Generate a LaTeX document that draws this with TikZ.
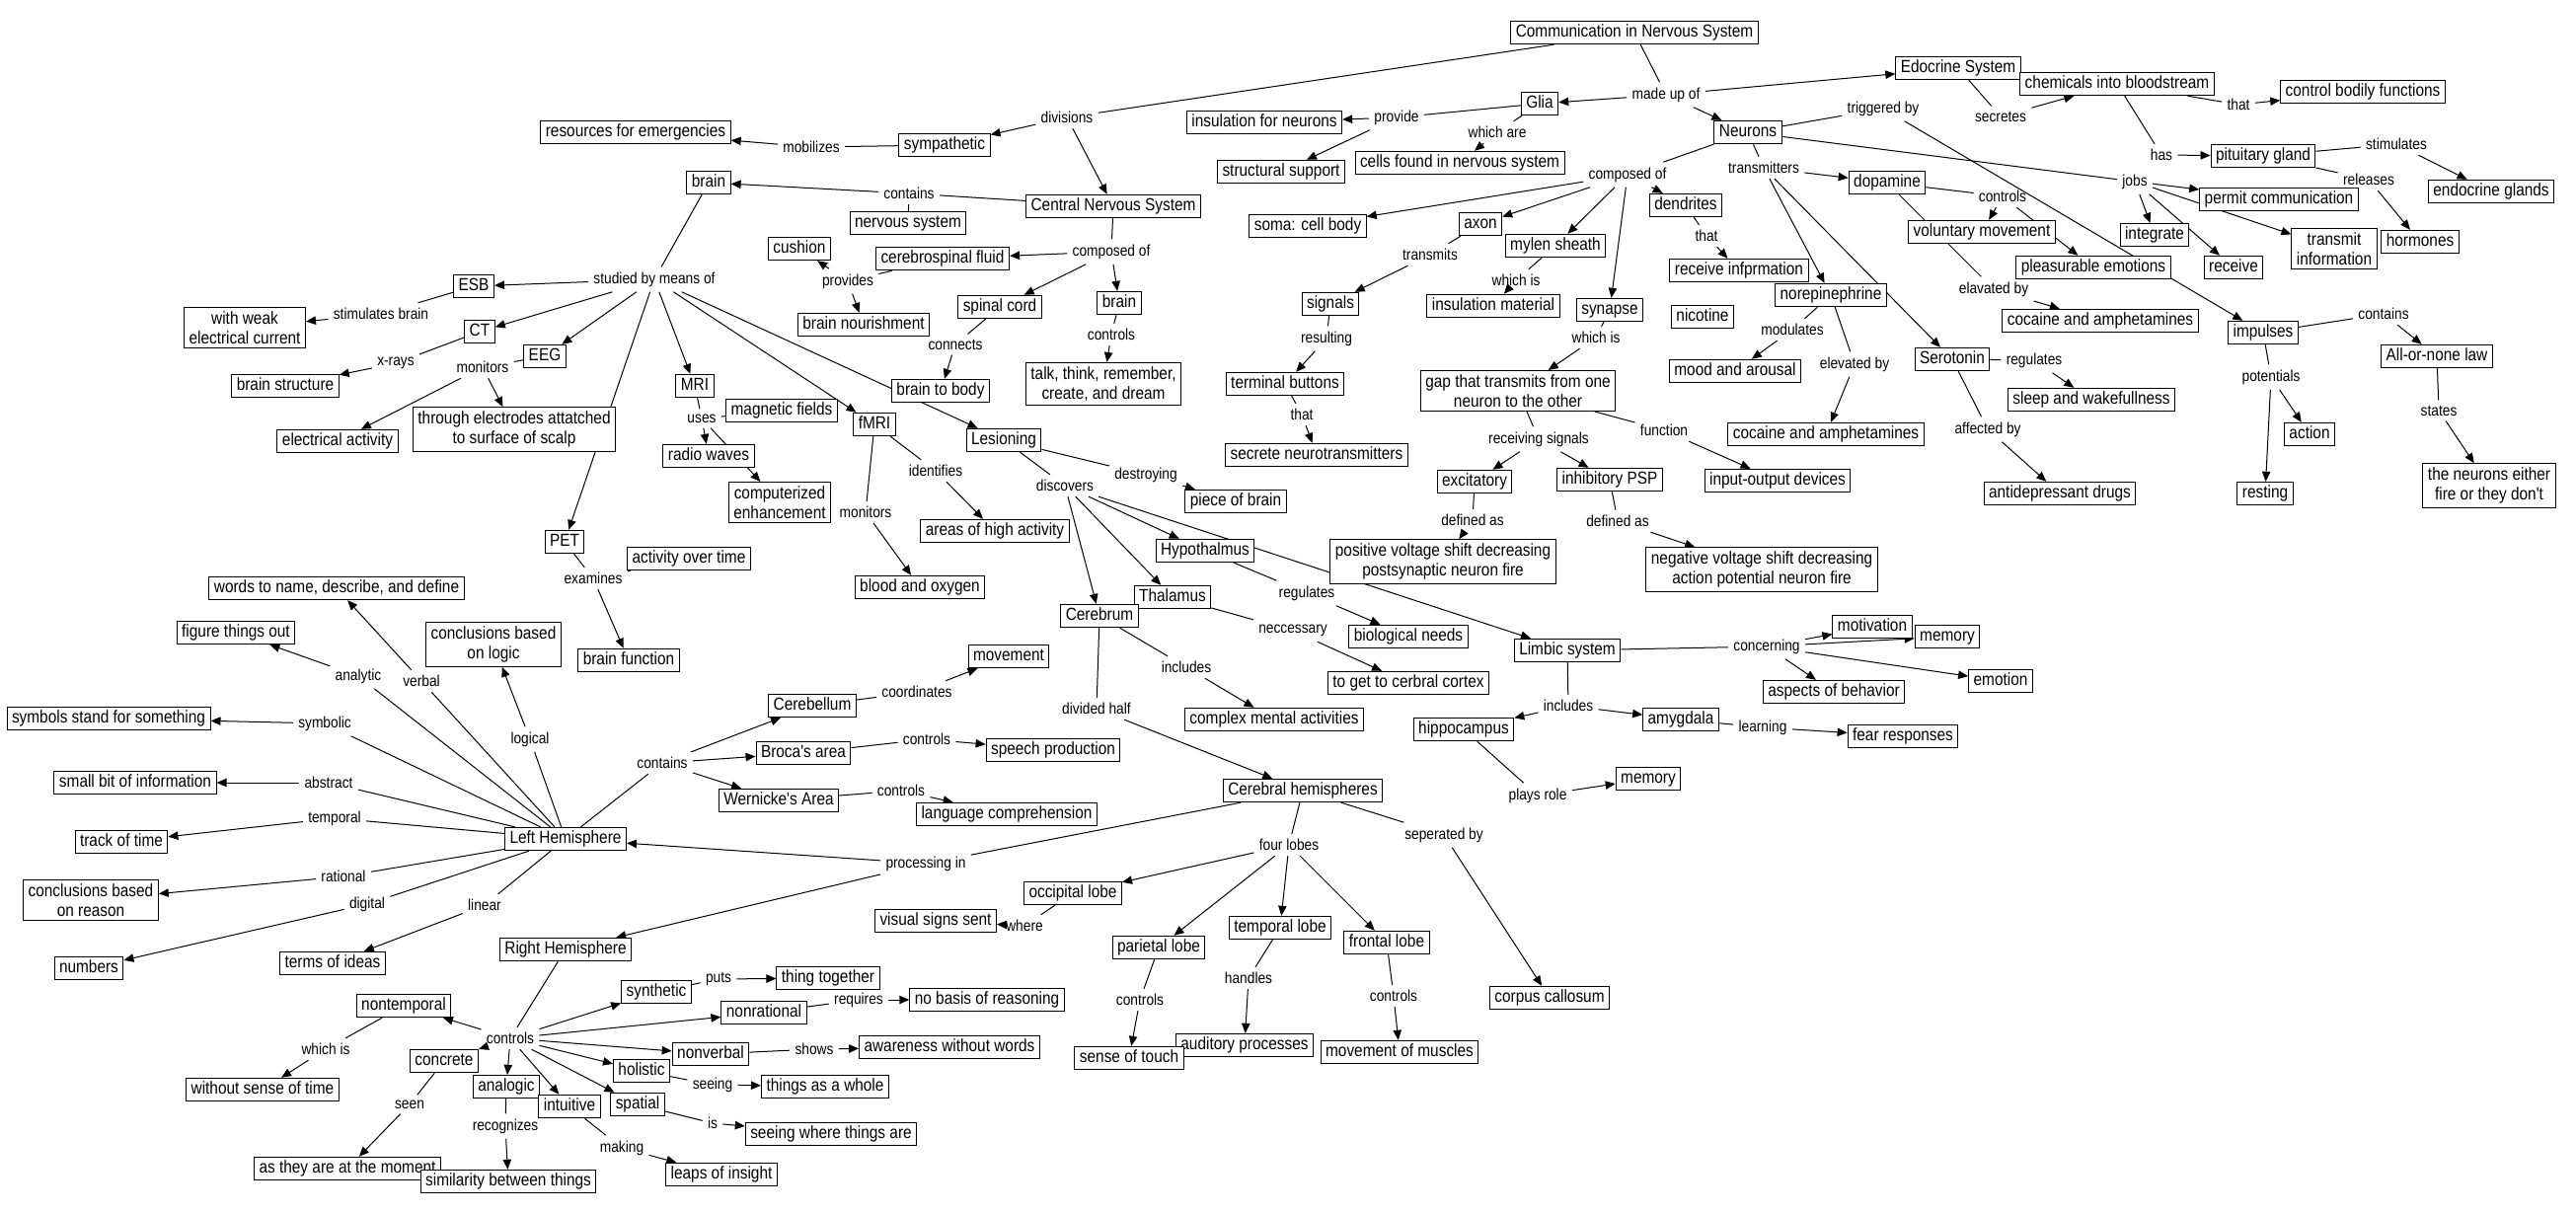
\documentclass[tikz,border=0pt]{standalone}
\usepackage{fontspec}
\newfontfamily\mapfont[FakeStretch=0.87]{Liberation Sans}
\newcommand\cfont{\mapfont\fontsize{8.85}{10}\selectfont}
\newcommand\lfont{\mapfont\fontsize{7.9}{9}\selectfont}
\usetikzlibrary{arrows.meta,backgrounds}
\tikzset{
  concept/.style={draw, fill=white, line width=0.5pt, font=\cfont,
    inner xsep=2.5pt, inner ysep=1.6pt, text height=6.6pt, text depth=1.9pt},
  concepttwo/.style={concept, text height=, text depth=, align=center, inner ysep=2pt},
  phrase/.style={font=\lfont, inner sep=2.5pt},
  link/.style={line width=0.5pt},
  arr/.style={link, -{Triangle[length=5pt,width=4.2pt]}}
}
\begin{document}
\begin{tikzpicture}[x=0.5pt,y=-0.5pt]
    \useasboundingbox (0,0) rectangle (2610,1229);
    % Concepts - top
    \node[concept] (comm) at (1656,33) {Communication in Nervous System};
    \node[concept] (edo) at (1984,69) {Edocrine System};
    \node[concept] (chem) at (2145,85) {chemicals into bloodstream};
    \node[concept] (ctrlbody) at (2394,93) {control bodily functions};
    \node[concept] (glia) at (1560,105) {Glia};
    \node[concept] (neur) at (1771,134) {Neurons};
    \node[concept] (insul) at (1281,124) {insulation for neurons};
    \node[concept] (cells) at (1479,165) {cells found in nervous system};
    \node[concept] (struct) at (1298,174) {structural support};
    \node[concept] (symp) at (957,147) {sympathetic};
    \node[concept] (resour) at (644,134) {resources for emergencies};
    \node[concept] (brainA) at (718,185) {brain};
    \node[concept] (cns) at (1128,209) {Central Nervous System};
    \node[concept] (nervsys) at (920,226) {nervous system};
    \node[concept] (pit) at (2293,158) {pituitary gland};
    \node[concept] (endo) at (2524,194) {endocrine glands};
    \node[concept] (permit) at (2309,202) {permit communication};
    \node[concept] (dopa) at (1912,185) {dopamine};
    \node[concept] (soma) at (1325,229) {soma: cell body};
    \node[concept] (axon) at (1500,227) {axon};
    \node[concept] (mylen) at (1576,249) {mylen sheath};
    \node[concept] (dend) at (1708,208) {dendrites};
    \node[concept] (recinf) at (1762,274) {receive infprmation};
    \node[concept] (integ) at (2183,238) {integrate};
    \node[concepttwo] (transinf) at (2365,252) {transmit\\information};
    \node[concept] (horm) at (2452,245) {hormones};
    \node[concept] (volmov) at (2008,235) {voluntary movement};
    \node[concept] (receive) at (2263,271) {receive};
    \node[concept] (pleas) at (2121,271) {pleasurable emotions};
    \node[concept] (cushion) at (810,252) {cushion};
    \node[concept] (csf) at (955,262) {cerebrospinal fluid};
    \node[concept] (esb) at (480,290) {ESB};
    \node[concept] (signals) at (1348,308) {signals};
    \node[concept] (insmat) at (1513,310) {insulation material};
    \node[concept] (synapse) at (1631,314) {synapse};
    \node[concept] (nicotine) at (1725,321) {nicotine};
    \node[concept] (norep) at (1855,299) {norepinephrine};
    \node[concept] (spinal) at (1013,311) {spinal cord};
    \node[concept] (brainB) at (1134,307) {brain};
    \node[concept] (cocA) at (2128,325) {cocaine and amphetamines};
    \node[concept] (impulses) at (2293,337) {impulses};
    \node[concept] (nourish) at (875,329) {brain nourishment};
    \node[concepttwo] (weak) at (248,332) {with weak\\electrical current};
    \node[concept] (ct) at (486,336) {CT};
    \node[concept] (eeg) at (552,361) {EEG};
    \node[concept] (allnone) at (2469,361) {All-or-none law};
    \node[concept] (sero) at (1978,364) {Serotonin};
    \node[concept] (mood) at (1758,376) {mood and arousal};
    \node[concept] (brainstr) at (289,391) {brain structure};
    \node[concept] (mri) at (704,391) {MRI};
    \node[concept] (termb) at (1302,389) {terminal buttons};
    \node[concepttwo] (gap) at (1538,396) {gap that transmits from one\\neuron to the other};
    \node[concepttwo] (talk) at (1118,389) {talk, think, remember,\\create, and dream};
    \node[concept] (b2b) at (953,396) {brain to body};
    \node[concept] (sleep) at (2119,405) {sleep and wakefullness};
    % Concepts - middle
    \node[concept] (magn) at (792,416) {magnetic fields};
    \node[concept] (fmri) at (886,430) {fMRI};
    \node[concepttwo] (electrodes) at (521,435) {through electrodes attatched\\to surface of scalp};
    \node[concept] (cocB) at (1850,440) {cocaine and amphetamines};
    \node[concept] (action) at (2340,440) {action};
    \node[concept] (elecact) at (342,447) {electrical activity};
    \node[concept] (lesion) at (1017,446) {Lesioning};
    \node[concept] (secrete) at (1334,461) {secrete neurotransmitters};
    \node[concept] (radio) at (718,462) {radio waves};
    \node[concept] (excit) at (1494,488) {excitatory};
    \node[concept] (inhib) at (1631,486) {inhibitory PSP};
    \node[concept] (inout) at (1801,487) {input-output devices};
    \node[concepttwo] (neurfire) at (2522,492) {the neurons either\\fire or they don't};
    \node[concept] (antidep) at (2087,500) {antidepressant drugs};
    \node[concept] (resting) at (2295,500) {resting};
    \node[concept] (piece) at (1252,508) {piece of brain};
    \node[concepttwo] (comput) at (790,509) {computerized\\enhancement};
    \node[concept] (areas) at (1008,538) {areas of high activity};
    \node[concept] (pet) at (572,549) {PET};
    \node[concept] (hypo) at (1221,558) {Hypothalmus};
    \node[concept] (activity) at (698,566) {activity over time};
    \node[concepttwo] (posv) at (1462,569) {positive voltage shift decreasing\\postsynaptic neuron fire};
    \node[concepttwo] (negv) at (1785,577) {negative voltage shift decreasing\\action potential neuron fire};
    \node[concept] (blood) at (932,595) {blood and oxygen};
    \node[concept] (words) at (341,596) {words to name, describe, and define};
    \node[concept] (thal) at (1188,605) {Thalamus};
    \node[concept] (cerebrum) at (1114,624) {Cerebrum};
    \node[concept] (memL) at (1973,645) {memory};
    \node[concept] (motiv) at (1897,635) {motivation};
    \node[concept] (figure) at (239,641) {figure things out};
    \node[concept] (biol) at (1427,645) {biological needs};
    \node[concepttwo] (logic) at (500,653) {conclusions based\\on logic};
    \node[concept] (limbic) at (1588,659) {Limbic system};
    \node[concept] (bfunc) at (637,669) {brain function};
    \node[concept] (movement) at (1022,665) {movement};
    \node[concept] (emotion) at (2027,690) {emotion};
    \node[concept] (cortex) at (1427,692) {to get to cerbral cortex};
    \node[concept] (aspects) at (1858,701) {aspects of behavior};
    \node[concept] (cerebellum) at (823,715) {Cerebellum};
    \node[concept] (symbols) at (110,728) {symbols stand for something};
    \node[concept] (complex) at (1291,729) {complex mental activities};
    \node[concept] (amyg) at (1703,729) {amygdala};
    \node[concept] (hippo) at (1483,739) {hippocampus};
    \node[concept] (fear) at (1928,746) {fear responses};
    \node[concept] (speech) at (1067,760) {speech production};
    \node[concept] (broca) at (814,763) {Broca's area};
    \node[concept] (memH) at (1670,789) {memory};
    \node[concept] (smallbit) at (137,793) {small bit of information};
    \node[concept] (hemis) at (1320,801) {Cerebral hemispheres};
    \node[concept] (wern) at (789,811) {Wernicke's Area};
    \node[concept] (lang) at (1020,825) {language comprehension};
    % Concepts - bottom
    \node[concept] (lh) at (573,850) {Left Hemisphere};
    \node[concept] (track) at (123,853) {track of time};
    \node[concepttwo] (reason) at (92,912) {conclusions based\\on reason};
    \node[concept] (occip) at (1087,905) {occipital lobe};
    \node[concept] (visual) at (948,933) {visual signs sent};
    \node[concept] (temp) at (1297,940) {temporal lobe};
    \node[concept] (frontal) at (1405,955) {frontal lobe};
    \node[concept] (pariet) at (1174,960) {parietal lobe};
    \node[concept] (rh) at (573,962) {Right Hemisphere};
    \node[concept] (terms) at (337,976) {terms of ideas};
    \node[concept] (numbers) at (90,981) {numbers};
    \node[concept] (thing) at (839,991) {thing together};
    \node[concept] (synth) at (665,1005) {synthetic};
    \node[concept] (corpus) at (1570,1011) {corpus callosum};
    \node[concept] (nobasis) at (1000,1013) {no basis of reasoning};
    \node[concept] (nontemp) at (409,1019) {nontemporal};
    \node[concept] (nonrat) at (774,1026) {nonrational};
    \node[concept] (auditory) at (1261,1059) {auditory processes};
    \node[concept] (touch) at (1144,1072) {sense of touch};
    \node[concept] (aware) at (962,1061) {awareness without words};
    \node[concept] (muscles) at (1418,1066) {movement of muscles};
    \node[concept] (nonverb) at (720,1068) {nonverbal};
    \node[concept] (concrete) at (450,1075) {concrete};
    \node[concept] (holistic) at (650,1085) {holistic};
    \node[concept] (analogic) at (513,1101) {analogic};
    \node[concept] (whole) at (836,1101) {things as a whole};
    \node[concept] (nosense) at (266,1104) {without sense of time};
    \node[concept] (spatial) at (646,1119) {spatial};
    \node[concept] (intuit) at (577,1121) {intuitive};
    \node[concept] (where2) at (842,1149) {seeing where things are};
    \node[concept] (moment) at (352,1184) {as they are at the moment};
    \node[concept] (similar) at (515,1197) {similarity between things};
    \node[concept] (leaps) at (731,1190) {leaps of insight};
    % Linking phrases
    \node[phrase] (divisions) at (1081,119) {divisions};
    \node[phrase] (madeup) at (1688,96) {made up of};
    \node[phrase] (trig) at (1908,110) {triggered by};
    \node[phrase] (provide) at (1415,119) {provide};
    \node[phrase] (whichare) at (1517,134) {which are};
    \node[phrase] (secretes) at (2027,118) {secretes};
    \node[phrase] (thatA) at (2268,106) {that};
    \node[phrase] (has) at (2190,157) {has};
    \node[phrase] (stim) at (2428,146) {stimulates};
    \node[phrase] (releases) at (2400,182) {releases};
    \node[phrase] (jobs) at (2163,184) {jobs};
    \node[phrase] (mobil) at (822,149) {mobilizes};
    \node[phrase] (containsA) at (921,196) {contains};
    \node[phrase] (compA) at (1649,177) {composed of};
    \node[phrase] (transm) at (1787,170) {transmitters};
    \node[phrase] (ctrlD) at (2029,199) {controls};
    \node[phrase] (thatD) at (1729,239) {that};
    \node[phrase] (transmits) at (1449,258) {transmits};
    \node[phrase] (compB) at (1126,255) {composed of};
    \node[phrase] (whichisM) at (1536,284) {which is};
    \node[phrase] (studied) at (663,283) {studied by means of};
    \node[phrase] (provides) at (859,285) {provides};
    \node[phrase] (elavated) at (2020,293) {elavated by};
    \node[phrase] (stimbrain) at (386,318) {stimulates brain};
    \node[phrase] (contI) at (2415,318) {contains};
    \node[phrase] (modul) at (1816,334) {modulates};
    \node[phrase] (ctrlB) at (1126,339) {controls};
    \node[phrase] (resulting) at (1344,343) {resulting};
    \node[phrase] (whichisS) at (1617,342) {which is};
    \node[phrase] (connects) at (968,349) {connects};
    \node[phrase] (regS) at (2061,365) {regulates};
    \node[phrase] (xrays) at (401,368) {x-rays};
    \node[phrase] (elevated) at (1879,369) {elevated by};
    \node[phrase] (monE) at (489,372) {monitors};
    \node[phrase] (potentials) at (2301,382) {potentials};
    \node[phrase] (states) at (2471,416) {states};
    \node[phrase] (thatT) at (1319,420) {that};
    \node[phrase] (uses) at (711,424) {uses};
    \node[phrase] (affected) at (2014,435) {affected by};
    \node[phrase] (function) at (1686,436) {function};
    \node[phrase] (receiving) at (1559,445) {receiving signals};
    \node[phrase] (identifies) at (948,477) {identifies};
    \node[phrase] (destroying) at (1161,481) {destroying};
    \node[phrase] (discovers) at (1079,492) {discovers};
    \node[phrase] (monF) at (877,519) {monitors};
    \node[phrase] (defE) at (1492,527) {defined as};
    \node[phrase] (defI) at (1639,528) {defined as};
    \node[phrase] (examines) at (601,586) {examines};
    \node[phrase] (regH) at (1324,601) {regulates};
    \node[phrase] (necc) at (1310,639) {neccessary};
    \node[phrase] (concern) at (1790,655) {concerning};
    \node[phrase] (analytic) at (363,685) {analytic};
    \node[phrase] (verbal) at (427,690) {verbal};
    \node[phrase] (includesC) at (1202,676) {includes};
    \node[phrase] (coord) at (929,701) {coordinates};
    \node[phrase] (includesL) at (1589,715) {includes};
    \node[phrase] (divided) at (1111,718) {divided half};
    \node[phrase] (symbolic) at (329,733) {symbolic};
    \node[phrase] (learning) at (1786,737) {learning};
    \node[phrase] (logical) at (537,749) {logical};
    \node[phrase] (ctrlBr) at (939,749) {controls};
    \node[phrase] (contL) at (671,773) {contains};
    \node[phrase] (abstract) at (333,793) {abstract};
    \node[phrase] (ctrlW) at (913,801) {controls};
    \node[phrase] (plays) at (1558,806) {plays role};
    \node[phrase] (temporal) at (339,829) {temporal};
    \node[phrase] (seper) at (1463,846) {seperated by};
    \node[phrase] (fourl) at (1306,856) {four lobes};
    \node[phrase] (procin) at (938,875) {processing in};
    \node[phrase] (rational) at (348,888) {rational};
    \node[phrase] (digital) at (372,916) {digital};
    \node[phrase] (linear) at (491,917) {linear};
    \node[phrase] (where) at (1038,938) {where};
    \node[phrase] (handles) at (1265,991) {handles};
    \node[phrase] (puts) at (728,992) {puts};
    \node[phrase] (ctrlF) at (1412,1009) {controls};
    \node[phrase] (ctrlP) at (1155,1013) {controls};
    \node[phrase] (requires) at (870,1013) {requires};
    \node[phrase] (ctrlR) at (517,1052) {controls};
    \node[phrase] (shows) at (825,1063) {shows};
    \node[phrase] (whichisN) at (330,1063) {which is};
    \node[phrase] (seeing) at (722,1099) {seeing};
    \node[phrase] (seen) at (415,1119) {seen};
    \node[phrase] (is) at (722,1138) {is};
    \node[phrase] (recog) at (512,1141) {recognizes};
    \node[phrase] (making) at (630,1163) {making};
    % Connectors (behind the boxes)
    \begin{scope}[on background layer]
    % Neurons, Glia, Endocrine
    \draw[link] (comm) -- (divisions);
    \draw[arr] (divisions) -- (symp);
    \draw[arr] (divisions) -- (cns);
    \draw[link] (symp) -- (mobil);
    \draw[arr] (mobil) -- (resour);
    \draw[link] (comm) -- (madeup);
    \draw[arr] (madeup) -- (glia);
    \draw[arr] (madeup) -- (edo);
    \draw[arr] (madeup) -- (neur);
    \draw[link] (glia) -- (provide);
    \draw[arr] (provide) -- (insul);
    \draw[arr] (provide) -- (struct);
    \draw[link] (glia) -- (whichare);
    \draw[arr] (whichare) -- (cells);
    \draw[link] (edo) -- (secretes);
    \draw[arr] (secretes) -- (chem);
    \draw[link] (chem) -- (thatA);
    \draw[arr] (thatA) -- (ctrlbody);
    \draw[link] (chem) -- (has);
    \draw[arr] (has) -- (pit);
    \draw[link] (pit) -- (stim);
    \draw[arr] (stim) -- (endo);
    \draw[link] (pit) -- (releases);
    \draw[arr] (releases) -- (horm);
    \draw[link] (neur) -- (trig);
    \draw[arr] (trig) -- (impulses);
    \draw[link] (neur) -- (jobs);
    \draw[arr] (jobs) -- (permit);
    \draw[arr] (jobs) -- (integ);
    \draw[arr] (jobs) -- (receive);
    \draw[arr] (jobs) -- (transinf);
    \draw[link] (neur) -- (compA);
    \draw[arr] (compA) -- (soma);
    \draw[arr] (compA) -- (axon);
    \draw[arr] (compA) -- (mylen);
    \draw[arr] (compA) -- (synapse);
    \draw[arr] (compA) -- (dend);
    \draw[link] (neur) -- (transm);
    \draw[arr] (transm) -- (dopa);
    \draw[arr] (transm) -- (norep);
    \draw[arr] (transm) -- (sero);
    \draw[link] (dopa) -- (ctrlD);
    \draw[arr] (ctrlD) -- (volmov);
    \draw[arr] (ctrlD) -- (pleas);
    \draw[link] (dopa) -- (elavated);
    \draw[arr] (elavated) -- (cocA);
    \draw[link] (axon) -- (transmits);
    \draw[arr] (transmits) -- (signals);
    \draw[link] (signals) -- (resulting);
    \draw[arr] (resulting) -- (termb);
    \draw[link] (termb) -- (thatT);
    \draw[arr] (thatT) -- (secrete);
    \draw[link] (mylen) -- (whichisM);
    \draw[arr] (whichisM) -- (insmat);
    \draw[link] (synapse) -- (whichisS);
    \draw[arr] (whichisS) -- (gap);
    \draw[link] (dend) -- (thatD);
    \draw[arr] (thatD) -- (recinf);
    \draw[link] (norep) -- (modul);
    \draw[arr] (modul) -- (mood);
    \draw[link] (norep) -- (elevated);
    \draw[arr] (elevated) -- (cocB);
    \draw[link] (sero) -- (regS);
    \draw[arr] (regS) -- (sleep);
    \draw[link] (sero) -- (affected);
    \draw[arr] (affected) -- (antidep);
    \draw[link] (gap) -- (receiving);
    \draw[arr] (receiving) -- (excit);
    \draw[arr] (receiving) -- (inhib);
    \draw[link] (gap) -- (function);
    \draw[arr] (function) -- (inout);
    \draw[link] (excit) -- (defE);
    \draw[arr] (defE) -- (posv);
    \draw[link] (inhib) -- (defI);
    \draw[arr] (defI) -- (negv);
    \draw[link] (impulses) -- (contI);
    \draw[arr] (contI) -- (allnone);
    \draw[link] (allnone) -- (states);
    \draw[arr] (states) -- (neurfire);
    \draw[link] (impulses) -- (potentials);
    \draw[arr] (potentials) -- (action);
    \draw[arr] (potentials) -- (resting);
    % Central nervous system and brain
    \draw[link] (cns) -- (containsA);
    \draw[arr] (containsA) -- (brainA);
    \draw[link] (containsA) -- (nervsys);
    \draw[link] (cns) -- (compB);
    \draw[arr] (compB) -- (csf);
    \draw[arr] (compB) -- (spinal);
    \draw[arr] (compB) -- (brainB);
    \draw[link] (csf) -- (provides);
    \draw[arr] (provides) -- (cushion);
    \draw[arr] (provides) -- (nourish);
    \draw[link] (spinal) -- (connects);
    \draw[arr] (connects) -- (b2b);
    \draw[link] (brainB) -- (ctrlB);
    \draw[arr] (ctrlB) -- (talk);
    \draw[link] (brainA) -- (studied);
    \draw[arr] (studied) -- (esb);
    \draw[arr] (studied) -- (ct);
    \draw[arr] (studied) -- (eeg);
    \draw[arr] (studied) -- (mri);
    \draw[arr] (studied) -- (fmri);
    \draw[arr] (studied) -- (lesion);
    \draw[arr] (studied) -- (pet);
    \draw[link] (esb) -- (stimbrain);
    \draw[arr] (stimbrain) -- (weak);
    \draw[link] (ct) -- (xrays);
    \draw[arr] (xrays) -- (brainstr);
    \draw[link] (eeg) -- (monE);
    \draw[arr] (monE) -- (elecact);
    \draw[arr] (monE) -- (electrodes);
    \draw[link] (mri) -- (uses);
    \draw[link] (uses) -- (magn);
    \draw[arr] (uses) -- (radio);
    \draw[arr] (uses) -- (comput);
    \draw[link] (fmri) -- (identifies);
    \draw[arr] (identifies) -- (areas);
    \draw[link] (fmri) -- (monF);
    \draw[arr] (monF) -- (blood);
    \draw[link] (pet) -- (examines);
    \draw[arr] (examines) -- (bfunc);
    \draw[link] (examines) -- (activity);
    \draw[link] (lesion) -- (destroying);
    \draw[arr] (destroying) -- (piece);
    \draw[link] (lesion) -- (discovers);
    \draw[arr] (discovers) -- (cerebrum);
    \draw[arr] (discovers) -- (thal);
    \draw[arr] (discovers) -- (hypo);
    \draw[arr] (discovers) -- (limbic);
    \draw[link] (hypo) -- (regH);
    \draw[arr] (regH) -- (biol);
    \draw[link] (thal) -- (necc);
    \draw[arr] (necc) -- (cortex);
    \draw[link] (cerebrum) -- (includesC);
    \draw[arr] (includesC) -- (complex);
    \draw[link] (cerebrum) -- (divided);
    \draw[arr] (divided) -- (hemis);
    \draw[link] (limbic) -- (concern);
    \draw[arr] (concern) -- (motiv);
    \draw[arr] (concern) -- (memL);
    \draw[arr] (concern) -- (emotion);
    \draw[arr] (concern) -- (aspects);
    \draw[link] (limbic) -- (includesL);
    \draw[arr] (includesL) -- (hippo);
    \draw[arr] (includesL) -- (amyg);
    \draw[link] (amyg) -- (learning);
    \draw[arr] (learning) -- (fear);
    \draw[link] (hippo) -- (plays);
    \draw[arr] (plays) -- (memH);
    % Hemispheres and lobes
    \draw[link] (hemis) -- (fourl);
    \draw[arr] (fourl) -- (occip);
    \draw[arr] (fourl) -- (pariet);
    \draw[arr] (fourl) -- (temp);
    \draw[arr] (fourl) -- (frontal);
    \draw[link] (hemis) -- (seper);
    \draw[arr] (seper) -- (corpus);
    \draw[link] (hemis) -- (procin);
    \draw[arr] (procin) -- (lh);
    \draw[arr] (procin) -- (rh);
    \draw[link] (occip) -- (where);
    \draw[arr] (where) -- (visual);
    \draw[link] (pariet) -- (ctrlP);
    \draw[arr] (ctrlP) -- (touch);
    \draw[link] (temp) -- (handles);
    \draw[arr] (handles) -- (auditory);
    \draw[link] (frontal) -- (ctrlF);
    \draw[arr] (ctrlF) -- (muscles);
    \draw[link] (lh) -- (contL);
    \draw[arr] (contL) -- (cerebellum);
    \draw[arr] (contL) -- (broca);
    \draw[arr] (contL) -- (wern);
    \draw[link] (cerebellum) -- (coord);
    \draw[arr] (coord) -- (movement);
    \draw[link] (broca) -- (ctrlBr);
    \draw[arr] (ctrlBr) -- (speech);
    \draw[link] (wern) -- (ctrlW);
    \draw[arr] (ctrlW) -- (lang);
    % Left hemisphere
    \draw[link] (lh) -- (analytic);
    \draw[arr] (analytic) -- (figure);
    \draw[link] (lh) -- (verbal);
    \draw[arr] (verbal) -- (words);
    \draw[link] (lh) -- (logical);
    \draw[arr] (logical) -- (logic);
    \draw[link] (lh) -- (symbolic);
    \draw[arr] (symbolic) -- (symbols);
    \draw[link] (lh) -- (abstract);
    \draw[arr] (abstract) -- (smallbit);
    \draw[link] (lh) -- (temporal);
    \draw[arr] (temporal) -- (track);
    \draw[link] (lh) -- (rational);
    \draw[arr] (rational) -- (reason);
    \draw[link] (lh) -- (digital);
    \draw[arr] (digital) -- (numbers);
    \draw[link] (lh) -- (linear);
    \draw[arr] (linear) -- (terms);
    % Right hemisphere
    \draw[link] (rh) -- (ctrlR);
    \draw[arr] (ctrlR) -- (nontemp);
    \draw[arr] (ctrlR) -- (synth);
    \draw[arr] (ctrlR) -- (nonrat);
    \draw[arr] (ctrlR) -- (nonverb);
    \draw[arr] (ctrlR) -- (holistic);
    \draw[arr] (ctrlR) -- (spatial);
    \draw[arr] (ctrlR) -- (intuit);
    \draw[arr] (ctrlR) -- (analogic);
    \draw[arr] (ctrlR) -- (concrete);
    \draw[link] (synth) -- (puts);
    \draw[arr] (puts) -- (thing);
    \draw[link] (nonrat) -- (requires);
    \draw[arr] (requires) -- (nobasis);
    \draw[link] (nonverb) -- (shows);
    \draw[arr] (shows) -- (aware);
    \draw[link] (holistic) -- (seeing);
    \draw[arr] (seeing) -- (whole);
    \draw[link] (spatial) -- (is);
    \draw[arr] (is) -- (where2);
    \draw[link] (intuit) -- (making);
    \draw[arr] (making) -- (leaps);
    \draw[link] (analogic) -- (recog);
    \draw[arr] (recog) -- (similar);
    \draw[link] (concrete) -- (seen);
    \draw[arr] (seen) -- (moment);
    \draw[link] (nontemp) -- (whichisN);
    \draw[arr] (whichisN) -- (nosense);
    \end{scope}
\end{tikzpicture}
\end{document}
